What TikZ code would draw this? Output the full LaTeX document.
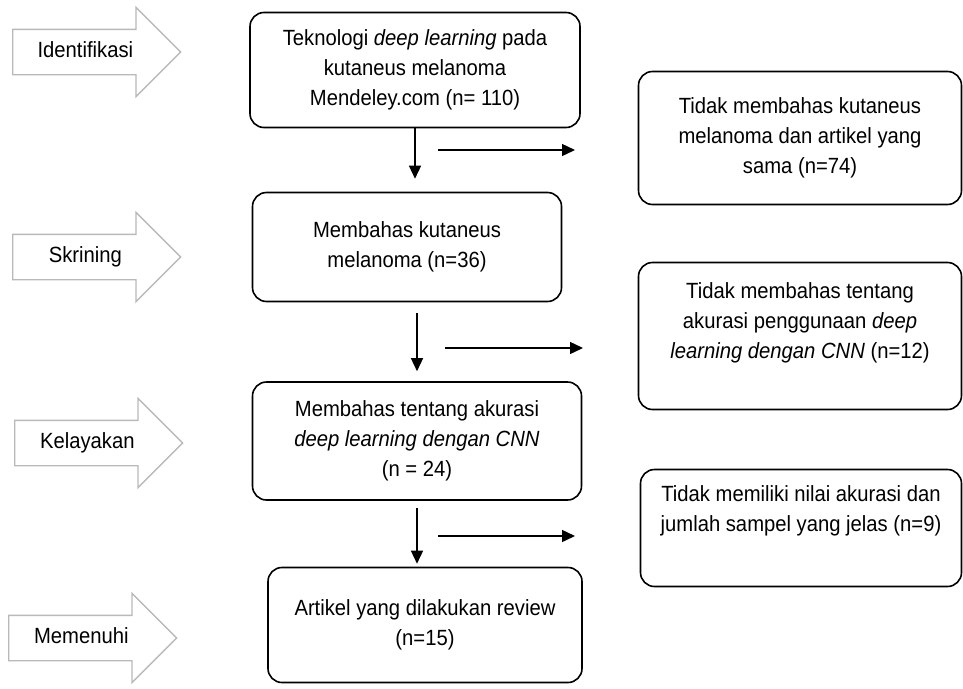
\documentclass[tikz,border=0pt]{standalone}
\usepackage{fontspec}
\setmainfont{Liberation Sans}[FakeStretch=0.92]
\usetikzlibrary{arrows.meta,shapes.arrows}

\begin{document}
\begin{tikzpicture}[
    x=1pt,y=-1pt,
    box/.style={draw,black,line width=1.6pt,rounded corners=14pt,align=center,font=\fontsize{22}{30}\selectfont},
    stage/.style={single arrow,draw=gray!55,line width=1.3pt,single arrow head extend=22pt,minimum height=168pt,text height=15pt,text depth=5pt,inner ysep=12pt,font=\fontsize{22}{30}\selectfont},
    flow/.style={-{Triangle[length=13pt,width=12pt]},line width=1.4pt}
    ]
    \useasboundingbox (0,0) rectangle (963,688);
    \node[stage,anchor=tail] (s1) at (12,52) {Identifikasi};
    \node[stage,anchor=tail] (s2) at (12,257) {Skrining};
    \node[stage,anchor=tail] (s3) at (14,443) {Kelayakan};
    \node[stage,anchor=tail] (s4) at (8,638) {Memenuhi};
    \node[box,minimum width=330pt,minimum height=115pt] (b1) at (415,70) {Teknologi \textit{deep learning} pada\\ kutaneus melanoma\\ Mendeley.com (n= 110)};
    \node[box,minimum width=309pt,minimum height=109pt] (b2) at (407,247) {Membahas kutaneus\\ melanoma (n=36)};
    \node[box,minimum width=329pt,minimum height=118pt] (b3) at (417,441) {Membahas tentang akurasi\\ \textit{deep learning dengan CNN}\\ (n = 24)};
    \node[box,minimum width=314pt,minimum height=115pt] (b4) at (425,625) {Artikel yang dilakukan review\\ (n=15)};
    \node[box,minimum width=323pt,minimum height=133pt] (r1) at (800,138) {Tidak membahas kutaneus\\ melanoma dan artikel yang\\ sama (n=74)};
    \node[box,minimum width=323pt,minimum height=147pt,text depth=30pt] (r2) at (800,336) {Tidak membahas tentang\\ akurasi penggunaan \textit{deep}\\ \textit{learning dengan CNN} (n=12)};
    \node[box,minimum width=321pt,minimum height=117pt,text depth=38pt] (r3) at (801,528) {Tidak memiliki nilai akurasi dan\\ jumlah sampel yang jelas (n=9)};
    \draw[flow,shorten >=13pt] (b1.south) -- (b1.south |- b2.north);
    \draw[flow,shorten <=11pt,shorten >=10pt] (b2.south -| b3.north) -- (b3.north);
    \draw[flow,shorten <=7pt,shorten >=3pt] (b3.south) -- (b3.south |- b4.north);
    \coordinate (e1) at (438,150);
    \coordinate (f1) at (575,150);
    \coordinate (e2) at (445,348);
    \coordinate (f2) at (583,348);
    \coordinate (e3) at (438,536);
    \coordinate (f3) at (575,536);
    \draw[flow] (e1) -- (f1);
    \draw[flow] (e2) -- (f2);
    \draw[flow] (e3) -- (f3);
\end{tikzpicture}
\end{document}
